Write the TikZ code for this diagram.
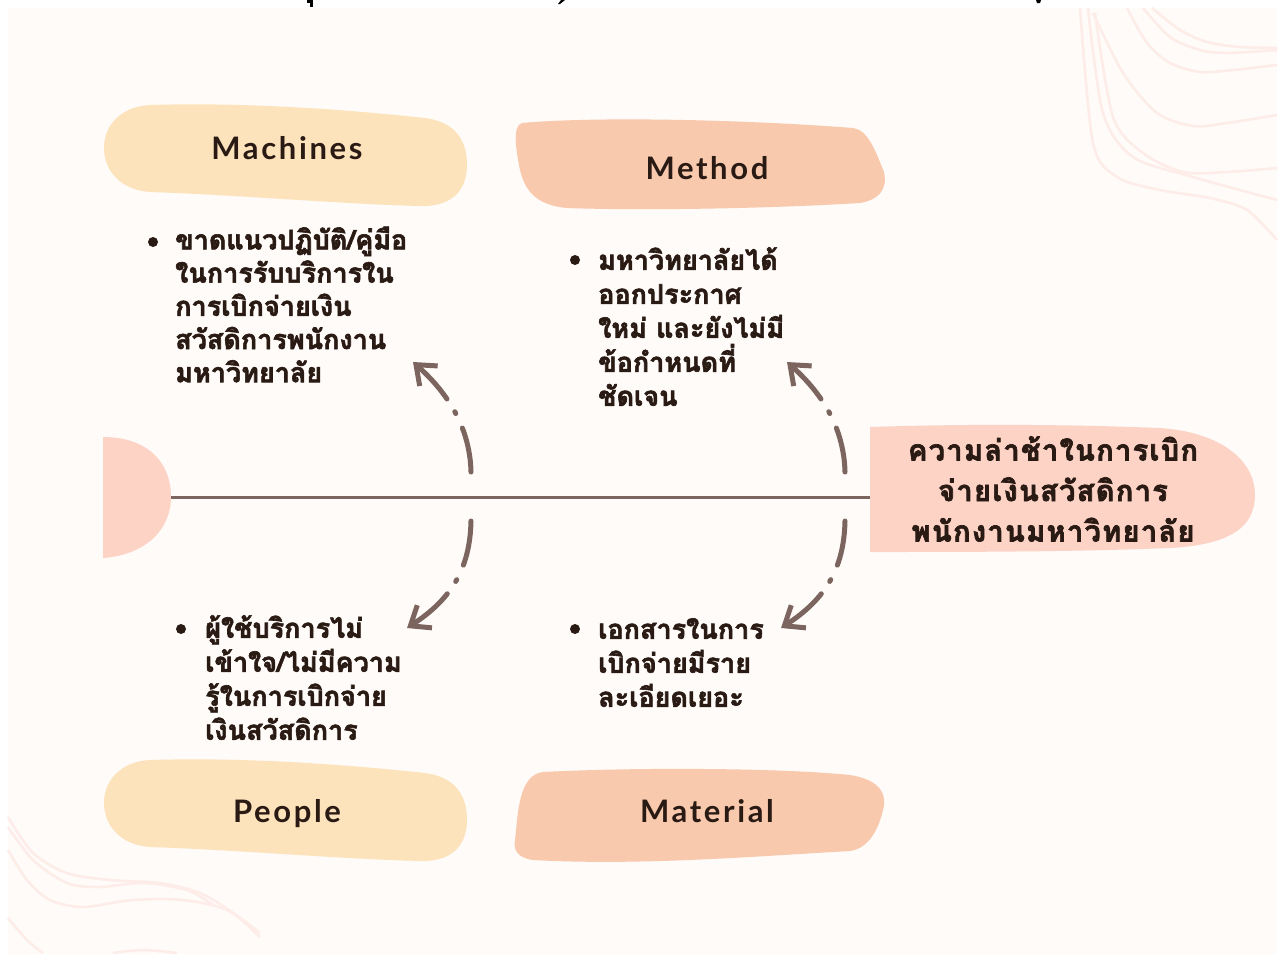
\documentclass[tikz,border=0pt]{standalone}
\usepackage{fontspec}
\usetikzlibrary{arrows.meta}
\setmainfont{Lato}
\newfontfamily\labelfont[LetterSpace=8.5]{Lato}
\newfontfamily\thaifont[Script=Thai,BoldFeatures={FakeBold=2.2}]{Loma}
\newfontfamily\thaihead[Script=Thai,LetterSpace=4.5,BoldFeatures={FakeBold=2.4}]{Loma}
\definecolor{paper}{HTML}{FEFBF8}
\definecolor{sand}{HTML}{FDE3BC}
\definecolor{peach}{HTML}{F8C9AC}
\definecolor{blush}{HTML}{FDD3C6}
\definecolor{spine}{HTML}{7C655F}
\definecolor{ink}{HTML}{2A1A14}
\definecolor{wave}{HTML}{FDECE7}
\tikzset{
  catlabel/.style={font=\labelfont\fontsize{31}{31}\selectfont\bfseries, text=ink, anchor=base, inner sep=0pt},
  causetext/.style={font=\thaifont\fontsize{27}{34}\selectfont\bfseries, text=ink, align=left, anchor=north west, inner sep=0pt},
  effecttext/.style={font=\thaihead\fontsize{29}{40.5}\selectfont\bfseries, text=ink, align=center, anchor=center, inner sep=0pt},
  bulletdot/.style={circle, fill=ink, minimum size=10pt, inner sep=0pt},
  link/.style={draw=spine, line width=5pt, line cap=round, -{Straight Barb[length=17pt,width=27pt,line width=5pt]}},
  wavy/.style={draw=wave, line width=2.5pt}
}
\begin{document}
\begin{tikzpicture}[x=1pt,y=-1pt]
\useasboundingbox (0,0) rectangle (1283,954);
\fill[white] (0,0) rectangle (1283,954);
\fill[paper] (8,8) rectangle (1277,954);
% clipped marks along the top edge
\fill[black] (307,0) rectangle (313,3);
\fill[black] (310,3) rectangle (313,7);
\fill[black] (558,4) -- (560,4) -- (565,0) -- (561,0) -- cycle;
\fill[black] (1036,0) -- (1041,0) -- (1040,3) -- (1037,3) -- cycle;
% waves top right
\draw[wavy] plot[smooth] coordinates {(1080,8) (1093,143) (1117,177) (1160,190) (1210,198) (1247,210) (1277,240)};
\draw[wavy] plot[smooth] coordinates {(1088,8) (1103,113) (1133,157) (1193,177) (1277,200)};
\draw[wavy] plot[smooth] coordinates {(1095,13) (1113,117) (1143,153) (1183,172) (1227,172) (1277,168)};
\draw[wavy] plot[smooth] coordinates {(1093,13) (1123,73) (1157,113) (1193,126) (1227,123) (1277,115)};
\draw[wavy] plot[smooth] coordinates {(1127,8) (1147,43) (1170,63) (1200,72) (1233,70) (1277,65)};
\draw[wavy] plot[smooth] coordinates {(1143,8) (1170,37) (1200,50) (1227,53) (1277,50)};
\draw[wavy] plot[smooth] coordinates {(1152,8) (1180,30) (1207,42) (1240,47) (1277,48)};
% waves bottom left
\draw[wavy] plot[smooth] coordinates {(8,817) (33,853) (67,873) (110,880) (160,883) (200,893) (233,913) (260,937)};
\draw[wavy] plot[smooth] coordinates {(8,827) (33,860) (67,883) (100,887) (143,883) (187,890) (213,905)};
\draw[wavy] plot[smooth] coordinates {(8,850) (27,880) (50,900) (83,907) (133,900) (183,900) (227,910) (260,933)};
\draw[wavy] plot[smooth] coordinates {(8,918) (27,940) (43,953)};
\draw[wavy] plot[smooth] coordinates {(113,953) (143,950) (177,953)};
% category blobs
\path[fill=sand] (150,105) .. controls (250,102) and (350,110) .. (425,118) .. controls (455,122) and (467,140) .. (467,165) .. controls (467,192) and (450,207) .. (420,206) .. controls (340,204) and (240,195) .. (150,192) .. controls (120,190) and (104,170) .. (104,148) .. controls (104,122) and (125,106) .. (150,105) -- cycle;
\path[fill=peach] (522,123) .. controls (600,116) and (750,120) .. (853,128) .. controls (868,130) and (875,150) .. (884,172) .. controls (888,190) and (878,200) .. (860,203) .. controls (780,208) and (650,211) .. (567,208) .. controls (535,205) and (525,190) .. (520,170) .. controls (516,150) and (512,126) .. (522,123) -- cycle;
\path[fill=sand] (150,760) .. controls (250,757) and (350,765) .. (425,773) .. controls (455,777) and (467,795) .. (467,820) .. controls (467,847) and (450,862) .. (420,861) .. controls (340,859) and (240,850) .. (150,847) .. controls (120,845) and (104,825) .. (104,803) .. controls (104,777) and (125,761) .. (150,760) -- cycle;
\path[fill=peach] (543,772) .. controls (640,767) and (780,768) .. (850,775) .. controls (875,779) and (886,790) .. (884,805) .. controls (881,822) and (872,848) .. (850,851) .. controls (760,856) and (640,866) .. (533,860) .. controls (518,858) and (513,850) .. (515,840) .. controls (518,815) and (518,775) .. (543,772) -- cycle;
% head and tail
\path[fill=blush] (870,427) .. controls (960,424) and (1060,424) .. (1160,428) .. controls (1220,432) and (1255,460) .. (1255,495) .. controls (1255,530) and (1225,545) .. (1170,548) .. controls (1070,552) and (960,552) .. (870,552) -- cycle;
\path[fill=blush] (103,437) .. controls (145,437) and (171,460) .. (171,497) .. controls (171,530) and (145,555) .. (103,558) -- cycle;
% nodes
\node[catlabel] (machines) at (287,159) {Machines};
\node[catlabel] (method) at (707,179) {Method};
\node[catlabel] (people) at (287,822) {People};
\node[catlabel] (material) at (707,822) {Material};
\node[bulletdot] (b1) at (153,242) {};
\node[bulletdot] (b2) at (575,260) {};
\node[bulletdot] (b3) at (181,629) {};
\node[bulletdot] (b4) at (575,629) {};
\node[causetext,font=\thaifont\fontsize{27}{33.2}\selectfont\bfseries] (t1) at (175,226.5) {ขาดแนวปฏิบัติ/คู่มือ\\ในการรับบริการใน\\การเบิกจ่ายเงิน\\สวัสดิการพนักงาน\\มหาวิทยาลัย};
\node[causetext] (t2) at (598,247) {มหาวิทยาลัยได้\\ออกประกาศ\\ใหม่ และยังไม่มี\\ข้อกำหนดที่\\ชัดเจน};
\node[causetext] (t3) at (205,615) {ผู้ใช้บริการไม่\\เข้าใจ/ไม่มีความ\\รู้ในการเบิกจ่าย\\เงินสวัสดิการ};
\node[causetext] (t4) at (598,618) {เอกสารในการ\\เบิกจ่ายมีราย\\ละเอียดเยอะ};
\node[effecttext] (effect) at (1053,489) {ความล่าช้าในการเบิก\\จ่ายเงินสวัสดิการ\\พนักงานมหาวิทยาลัย};
% spine
\coordinate (tail) at (171,497);
\draw[draw=spine, line width=3pt] (tail) -- (870,497) coordinate (headend);
% arrows
\coordinate (a1s) at (471,472); \coordinate (a1e) at (413,362);
\coordinate (a2s) at (845,472); \coordinate (a2e) at (787,362);
\coordinate (a3s) at (471,521); \coordinate (a3e) at (407,628);
\coordinate (a4s) at (845,521); \coordinate (a4e) at (781,628);
\tikzset{gap1/.style={dash pattern=on 45pt off 16pt on 2pt off 15pt on 200pt}}
\draw[link,gap1] (a1s) .. controls (470,430) and (450,395) .. (a1e);
\draw[link,gap1] (a2s) .. controls (844,430) and (824,395) .. (a2e);
\draw[link,gap1] (a3s) .. controls (470,570) and (450,600) .. (a3e);
\draw[link,gap1] (a4s) .. controls (844,570) and (824,600) .. (a4e);
\end{tikzpicture}
\end{document}
